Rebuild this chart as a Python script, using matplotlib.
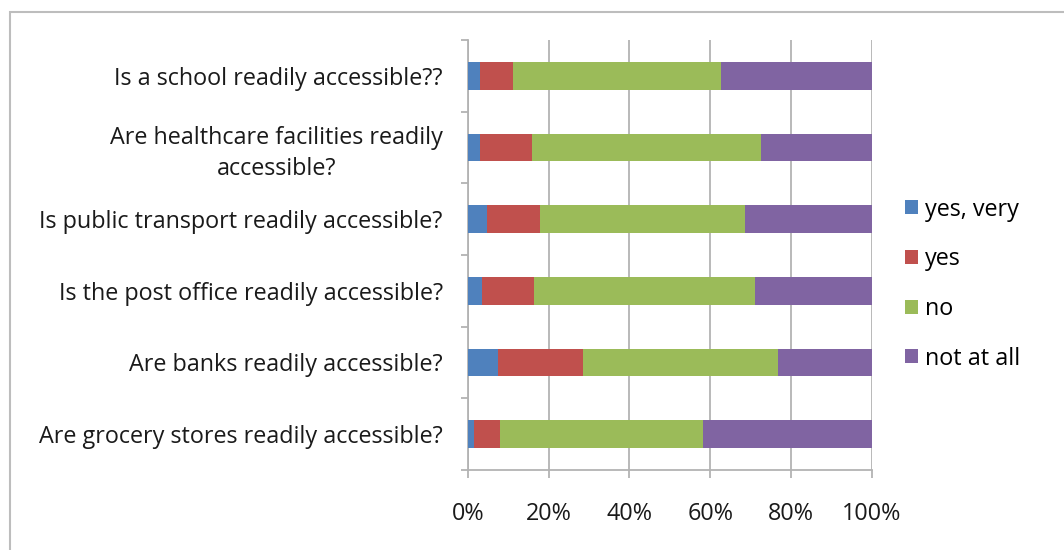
import matplotlib.pyplot as plt
import numpy as np
from matplotlib.patches import Rectangle

plt.rcParams['font.family'] = ['Open Sans', 'DejaVu Sans']

questions = [
    "Are grocery stores readily accessible?",
    "Are banks readily accessible?",
    "Is the post office readily accessible?",
    "Is public transport readily accessible?",
    "Are healthcare facilities readily\naccessible?",
    "Is a school readily accessible??",
]
series = ["yes, very", "yes", "no", "not at all"]
yes_very = [1.6, 7.4, 3.5, 4.8, 3.0, 3.0]
yes = [6.4, 21.2, 12.8, 13.1, 13.0, 8.2]
no = [50.2, 48.3, 54.9, 50.7, 56.5, 51.4]
not_at_all = [41.8, 23.1, 28.8, 31.4, 27.5, 37.4]
colors = ["#4F81BD", "#C0504D", "#9BBB59", "#8064A2"]

values = np.array([yes_very, yes, no, not_at_all])
totals = values.sum(axis=0)
shares = values / totals * 100

fig = plt.figure(figsize=(10.64, 5.5), dpi=100)
ax = fig.add_axes([0.4396, 0.1455, 0.3797, 0.7818])

y = np.arange(len(questions))
left = np.zeros(len(questions))
for i, name in enumerate(series):
    ax.barh(y, shares[i], left=left, height=0.39, color=colors[i], label=name, zorder=3)
    left += shares[i]

ax.set_xlim(0, 100)
ax.set_ylim(-0.5, len(questions) - 0.5)
ax.set_xticks(np.arange(0, 101, 20))
ax.set_xticklabels([f"{v}%" for v in range(0, 101, 20)])
ax.set_yticks(y)
ax.set_yticklabels(questions, multialignment='center', linespacing=1.35)
ax.set_yticks(np.arange(-0.5, len(questions), 1), minor=True)

grid_c = "#B3B3B3"
ax.xaxis.grid(True, color=grid_c, linewidth=1.3, zorder=0)
for s in ["top", "right"]:
    ax.spines[s].set_visible(False)
for s in ["left", "bottom"]:
    ax.spines[s].set_color(grid_c)
    ax.spines[s].set_linewidth(1.3)

fs = 16.8
ax.tick_params(axis='x', length=6, color=grid_c, width=1.3, pad=17, labelsize=fs, labelcolor="#1a1a1a")
ax.tick_params(axis='y', which='major', length=0, pad=18, labelsize=fs, labelcolor="#1a1a1a")
ax.tick_params(axis='y', which='minor', length=5, color=grid_c, width=1.3)

leg = ax.legend(loc='center left', bbox_to_anchor=(1.06, 0.432), frameon=False,
                fontsize=fs, handlelength=0.55, handleheight=0.55, handletextpad=0.3,
                labelspacing=1.1, borderaxespad=0)

fig.patches.append(Rectangle((10, 550 - 12 - 600), 1100, 600, transform=None, fill=False,
                             edgecolor="#BDBDBD", linewidth=1.5))

fig.savefig("out.png", dpi=100)
